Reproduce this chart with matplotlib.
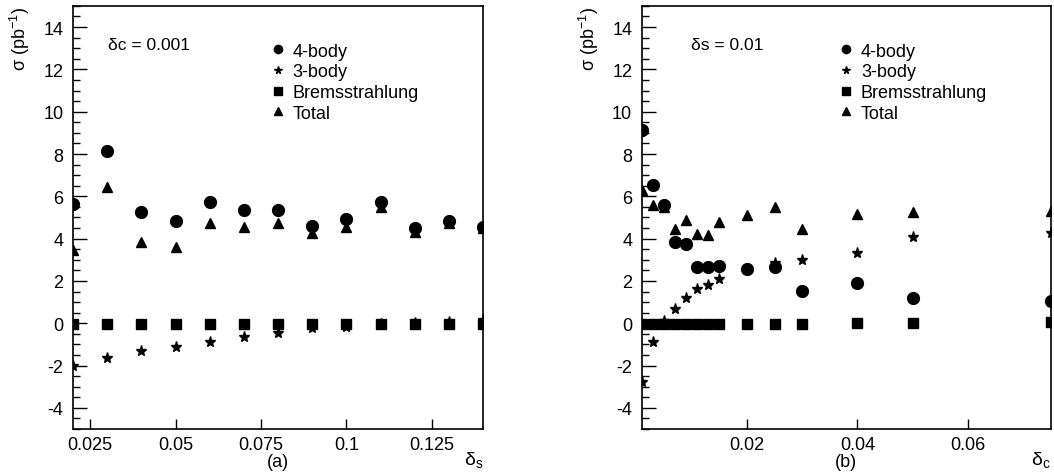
import numpy as np
import matplotlib
matplotlib.use("Agg")
import matplotlib.pyplot as plt
from matplotlib.ticker import MultipleLocator, FuncFormatter

plt.rcParams['font.family'] = ['Liberation Sans', 'DejaVu Sans']
plt.rcParams['axes.unicode_minus'] = False
plt.rcParams['mathtext.fontset'] = 'custom'
plt.rcParams['mathtext.rm'] = 'Liberation Sans'
plt.rcParams['mathtext.it'] = 'Liberation Sans'

# panel (a): scan in delta_s at delta_c = 0.001
ds = [0.02, 0.03, 0.04, 0.05, 0.06, 0.07, 0.08, 0.09, 0.10, 0.11, 0.12, 0.13, 0.14]
a_four = [5.65, 8.16, 5.28, 4.85, 5.75, 5.34, 5.37, 4.60, 4.93, 5.75, 4.52, 4.83, 4.54]
a_three = [-2.02, -1.62, -1.31, -1.10, -0.87, -0.66, -0.47, -0.24, -0.16, -0.05, 0.0, 0.08, 0.15]
a_brems = [-0.05, -0.05, -0.05, -0.05, -0.05, -0.05, -0.05, -0.05, -0.05, -0.05, -0.05, -0.05, -0.05]
a_total = [3.46, 6.43, 3.83, 3.59, 4.72, 4.54, 4.74, 4.25, 4.54, 5.51, 4.33, 4.74, 4.50]

# panel (b): scan in delta_c at delta_s = 0.01
dc = [0.001, 0.003, 0.005, 0.007, 0.009, 0.011, 0.013, 0.015, 0.02, 0.025, 0.03, 0.04, 0.05, 0.075]
b_four = [9.12, 6.54, 5.57, 3.83, 3.75, 2.66, 2.66, 2.72, 2.55, 2.68, 1.54, 1.90, 1.17, 1.06]
b_three = [-2.77, -0.87, 0.10, 0.69, 1.18, 1.64, 1.81, 2.11, 2.50, 2.87, 2.98, 3.31, 4.08, 4.28]
b_brems = [-0.05, -0.05, -0.05, -0.05, -0.05, -0.05, -0.05, -0.05, -0.03, -0.02, -0.02, 0.0, 0.0, 0.06]
b_total = [6.28, 5.59, 5.51, 4.47, 4.90, 4.20, 4.19, 4.79, 5.10, 5.50, 4.46, 5.18, 5.26, 5.31]

fig = plt.figure(figsize=(10.54, 4.77), dpi=100)
axa = fig.add_axes([0.0693, 0.0985, 0.389, 0.887])
axb = fig.add_axes([0.609, 0.0985, 0.388, 0.887])

def fmt(v, pos):
    return "%g" % round(v, 6)

def draw(ax, x, four, three, brems, total, xlim, xticks, note, xlab, tag):
    ax.plot(x, four, 'o', color='k', ms=8.5, ls='', label="4-body")
    ax.plot(x, three, '*', color='k', ms=8, ls='', label="3-body")
    ax.plot(x, brems, 's', color='k', ms=7.5, ls='', label="Bremsstrahlung")
    ax.plot(x, total, '^', color='k', ms=7.5, ls='', label="Total")
    ax.set_xlim(xlim)
    ax.set_ylim(-5, 15)
    ax.set_xticks(xticks)
    ax.xaxis.set_major_formatter(FuncFormatter(fmt))
    ax.set_yticks(np.arange(-4, 15, 2))
    ax.yaxis.set_minor_locator(MultipleLocator(0.5))
    ax.tick_params(axis='both', which='both', direction='in', top=False, right=False, labelsize=13)
    ax.tick_params(axis='y', which='major', length=10, width=1, pad=7)
    ax.tick_params(axis='y', which='minor', length=5, width=1)
    ax.tick_params(axis='x', which='major', length=7, width=1, pad=5)
    for s in ax.spines.values():
        s.set_linewidth(1.2)
    ax.text(0.085, 0.908, note, transform=ax.transAxes, fontsize=12.5, va='center', ha='left')
    ax.legend(loc='upper left', bbox_to_anchor=(0.465, 0.93), frameon=False, fontsize=13,
              handlelength=0.8, handletextpad=0.4, labelspacing=0.2, markerscale=0.7,
              borderaxespad=0)
    ax.text(0.5, -0.076, tag, transform=ax.transAxes, fontsize=13, ha='center', va='center')
    ax.text(1.0, -0.07, xlab, transform=ax.transAxes, fontsize=14, ha='right', va='center')
    ax.set_ylabel(r"σ (pb$^{-1}$)", fontsize=13, loc='top', labelpad=8)

draw(axa, ds, a_four, a_three, a_brems, a_total, (0.02, 0.14),
     [0.025, 0.05, 0.075, 0.1, 0.125], "δc = 0.001", r"δ$_\mathregular{s}$", "(a)")
draw(axb, dc, b_four, b_three, b_brems, b_total, (0.001, 0.075),
     [0.02, 0.04, 0.06], "δs = 0.01", r"δ$_\mathregular{c}$", "(b)")
axb.texts[0].set_x(0.12)

fig.savefig("out.png", dpi=100)
